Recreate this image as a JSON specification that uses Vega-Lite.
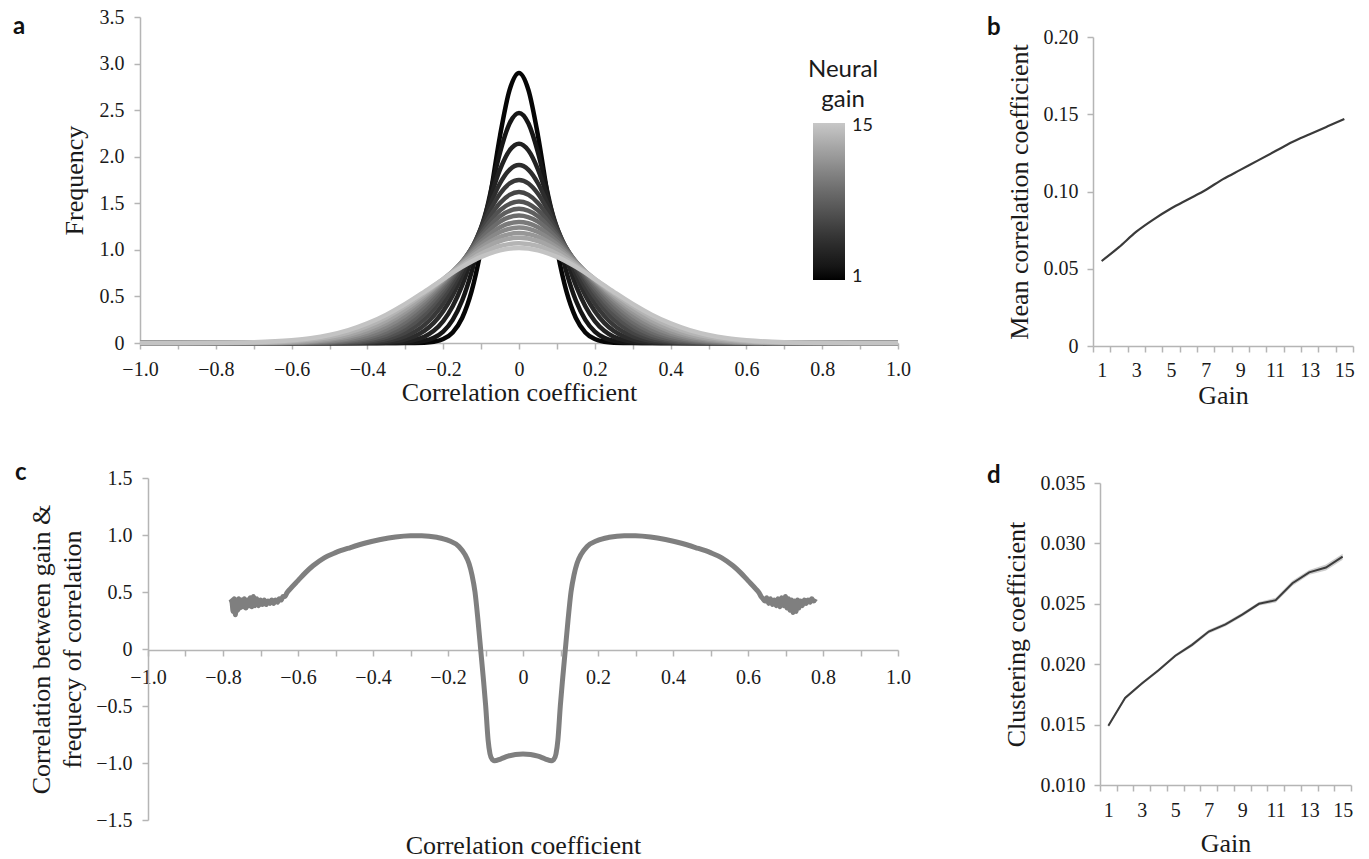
{
  "$schema": "https://vega.github.io/schema/vega-lite/v6.json",
  "padding": {"left": 13, "top": 7, "right": 5, "bottom": 5},
  "background": "white",
  "config": {
    "view": {"stroke": null},
    "axis": {"labelFont": "Liberation Serif", "labelFontSize": 20, "labelColor": "#1a1a1a", "titleFont": "Liberation Serif", "titleFontSize": 26, "titleFontWeight": "normal", "titleColor": "#1a1a1a", "domainColor": "#b5b5b5", "domainWidth": 1.5, "tickColor": "#b5b5b5", "tickWidth": 1.5, "tickSize": 6, "grid": false, "labelFlush": false, "labelOverlap": false, "labelBound": false},
    "title": {"font": "Lato", "fontSize": 24, "fontWeight": "bold", "color": "#111111", "anchor": "start", "frame": "group", "baseline": "alphabetic", "offset": 0}
  },
  "datasets": {
    "dist": [
      {"g":1,"x":-1,"y":0},{"g":1,"x":-0.3,"y":0},{"g":1,"x":-0.25,"y":0.004},{"g":1,"x":-0.225,"y":0.014},{"g":1,"x":-0.2,"y":0.042},{"g":1,"x":-0.175,"y":0.114},{"g":1,"x":-0.15,"y":0.269},{"g":1,"x":-0.125,"y":0.557},{"g":1,"x":-0.1,"y":1.009},{"g":1,"x":-0.075,"y":1.601},{"g":1,"x":-0.05,"y":2.227},{"g":1,"x":-0.025,"y":2.715},{"g":1,"x":0,"y":2.9},{"g":1,"x":0.025,"y":2.715},{"g":1,"x":0.05,"y":2.227},{"g":1,"x":0.075,"y":1.601},{"g":1,"x":0.1,"y":1.009},{"g":1,"x":0.125,"y":0.557},{"g":1,"x":0.15,"y":0.269},{"g":1,"x":0.175,"y":0.114},{"g":1,"x":0.2,"y":0.042},{"g":1,"x":0.225,"y":0.014},{"g":1,"x":0.25,"y":0.004},{"g":1,"x":0.3,"y":0},{"g":1,"x":1,"y":0},
      {"g":2,"x":-1,"y":0},{"g":2,"x":-0.35,"y":0},{"g":2,"x":-0.3,"y":0.003},{"g":2,"x":-0.275,"y":0.008},{"g":2,"x":-0.25,"y":0.023},{"g":2,"x":-0.225,"y":0.055},{"g":2,"x":-0.2,"y":0.122},{"g":2,"x":-0.175,"y":0.248},{"g":2,"x":-0.15,"y":0.456},{"g":2,"x":-0.125,"y":0.764},{"g":2,"x":-0.1,"y":1.166},{"g":2,"x":-0.075,"y":1.619},{"g":2,"x":-0.05,"y":2.047},{"g":2,"x":-0.025,"y":2.357},{"g":2,"x":0,"y":2.47},{"g":2,"x":0.025,"y":2.357},{"g":2,"x":0.05,"y":2.047},{"g":2,"x":0.075,"y":1.619},{"g":2,"x":0.1,"y":1.166},{"g":2,"x":0.125,"y":0.764},{"g":2,"x":0.15,"y":0.456},{"g":2,"x":0.175,"y":0.248},{"g":2,"x":0.2,"y":0.122},{"g":2,"x":0.225,"y":0.055},{"g":2,"x":0.25,"y":0.023},{"g":2,"x":0.275,"y":0.008},{"g":2,"x":0.3,"y":0.003},{"g":2,"x":0.35,"y":0},{"g":2,"x":1,"y":0},
      {"g":3,"x":-1,"y":0},{"g":3,"x":-0.4,"y":0},{"g":3,"x":-0.35,"y":0.002},{"g":3,"x":-0.3,"y":0.015},{"g":3,"x":-0.275,"y":0.033},{"g":3,"x":-0.25,"y":0.068},{"g":3,"x":-0.225,"y":0.131},{"g":3,"x":-0.2,"y":0.235},{"g":3,"x":-0.175,"y":0.395},{"g":3,"x":-0.15,"y":0.619},{"g":3,"x":-0.125,"y":0.904},{"g":3,"x":-0.1,"y":1.233},{"g":3,"x":-0.075,"y":1.569},{"g":3,"x":-0.05,"y":1.864},{"g":3,"x":-0.025,"y":2.067},{"g":3,"x":0,"y":2.14},{"g":3,"x":0.025,"y":2.067},{"g":3,"x":0.05,"y":1.864},{"g":3,"x":0.075,"y":1.569},{"g":3,"x":0.1,"y":1.233},{"g":3,"x":0.125,"y":0.904},{"g":3,"x":0.15,"y":0.619},{"g":3,"x":0.175,"y":0.395},{"g":3,"x":0.2,"y":0.235},{"g":3,"x":0.225,"y":0.131},{"g":3,"x":0.25,"y":0.068},{"g":3,"x":0.275,"y":0.033},{"g":3,"x":0.3,"y":0.015},{"g":3,"x":0.35,"y":0.002},{"g":3,"x":0.4,"y":0},{"g":3,"x":1,"y":0},
      {"g":4,"x":-1,"y":0},{"g":4,"x":-0.45,"y":0},{"g":4,"x":-0.4,"y":0.002},{"g":4,"x":-0.35,"y":0.01},{"g":4,"x":-0.3,"y":0.04},{"g":4,"x":-0.275,"y":0.074},{"g":4,"x":-0.25,"y":0.13},{"g":4,"x":-0.225,"y":0.216},{"g":4,"x":-0.2,"y":0.342},{"g":4,"x":-0.175,"y":0.511},{"g":4,"x":-0.15,"y":0.725},{"g":4,"x":-0.125,"y":0.975},{"g":4,"x":-0.1,"y":1.242},{"g":4,"x":-0.075,"y":1.499},{"g":4,"x":-0.05,"y":1.715},{"g":4,"x":-0.025,"y":1.859},{"g":4,"x":0,"y":1.91},{"g":4,"x":0.025,"y":1.859},{"g":4,"x":0.05,"y":1.715},{"g":4,"x":0.075,"y":1.499},{"g":4,"x":0.1,"y":1.242},{"g":4,"x":0.125,"y":0.975},{"g":4,"x":0.15,"y":0.725},{"g":4,"x":0.175,"y":0.511},{"g":4,"x":0.2,"y":0.342},{"g":4,"x":0.225,"y":0.216},{"g":4,"x":0.25,"y":0.13},{"g":4,"x":0.275,"y":0.074},{"g":4,"x":0.3,"y":0.04},{"g":4,"x":0.35,"y":0.01},{"g":4,"x":0.4,"y":0.002},{"g":4,"x":0.45,"y":0},{"g":4,"x":1,"y":0},
      {"g":5,"x":-1,"y":0},{"g":5,"x":-0.45,"y":0.001},{"g":5,"x":-0.4,"y":0.006},{"g":5,"x":-0.35,"y":0.023},{"g":5,"x":-0.3,"y":0.073},{"g":5,"x":-0.25,"y":0.192},{"g":5,"x":-0.2,"y":0.425},{"g":5,"x":-0.175,"y":0.592},{"g":5,"x":-0.15,"y":0.79},{"g":5,"x":-0.125,"y":1.007},{"g":5,"x":-0.1,"y":1.229},{"g":5,"x":-0.075,"y":1.434},{"g":5,"x":-0.05,"y":1.602},{"g":5,"x":-0.025,"y":1.712},{"g":5,"x":0,"y":1.75},{"g":5,"x":0.025,"y":1.712},{"g":5,"x":0.05,"y":1.602},{"g":5,"x":0.075,"y":1.434},{"g":5,"x":0.1,"y":1.229},{"g":5,"x":0.125,"y":1.007},{"g":5,"x":0.15,"y":0.79},{"g":5,"x":0.175,"y":0.592},{"g":5,"x":0.2,"y":0.425},{"g":5,"x":0.25,"y":0.192},{"g":5,"x":0.3,"y":0.073},{"g":5,"x":0.35,"y":0.023},{"g":5,"x":0.4,"y":0.006},{"g":5,"x":0.45,"y":0.001},{"g":5,"x":1,"y":0},
      {"g":6,"x":-1,"y":0},{"g":6,"x":-0.5,"y":0},{"g":6,"x":-0.45,"y":0.004},{"g":6,"x":-0.4,"y":0.014},{"g":6,"x":-0.35,"y":0.042},{"g":6,"x":-0.3,"y":0.112},{"g":6,"x":-0.25,"y":0.253},{"g":6,"x":-0.2,"y":0.493},{"g":6,"x":-0.175,"y":0.652},{"g":6,"x":-0.15,"y":0.83},{"g":6,"x":-0.125,"y":1.018},{"g":6,"x":-0.1,"y":1.204},{"g":6,"x":-0.075,"y":1.37},{"g":6,"x":-0.05,"y":1.504},{"g":6,"x":-0.025,"y":1.59},{"g":6,"x":0,"y":1.62},{"g":6,"x":0.025,"y":1.59},{"g":6,"x":0.05,"y":1.504},{"g":6,"x":0.075,"y":1.37},{"g":6,"x":0.1,"y":1.204},{"g":6,"x":0.125,"y":1.018},{"g":6,"x":0.15,"y":0.83},{"g":6,"x":0.175,"y":0.652},{"g":6,"x":0.2,"y":0.493},{"g":6,"x":0.25,"y":0.253},{"g":6,"x":0.3,"y":0.112},{"g":6,"x":0.35,"y":0.042},{"g":6,"x":0.4,"y":0.014},{"g":6,"x":0.45,"y":0.004},{"g":6,"x":0.5,"y":0},{"g":6,"x":1,"y":0},
      {"g":7,"x":-1,"y":0},{"g":7,"x":-0.55,"y":0},{"g":7,"x":-0.5,"y":0.003},{"g":7,"x":-0.45,"y":0.008},{"g":7,"x":-0.4,"y":0.025},{"g":7,"x":-0.35,"y":0.066},{"g":7,"x":-0.3,"y":0.152},{"g":7,"x":-0.25,"y":0.307},{"g":7,"x":-0.2,"y":0.545},{"g":7,"x":-0.15,"y":0.854},{"g":7,"x":-0.1,"y":1.176},{"g":7,"x":-0.05,"y":1.426},{"g":7,"x":0,"y":1.52},{"g":7,"x":0.05,"y":1.426},{"g":7,"x":0.1,"y":1.176},{"g":7,"x":0.15,"y":0.854},{"g":7,"x":0.2,"y":0.545},{"g":7,"x":0.25,"y":0.307},{"g":7,"x":0.3,"y":0.152},{"g":7,"x":0.35,"y":0.066},{"g":7,"x":0.4,"y":0.025},{"g":7,"x":0.45,"y":0.008},{"g":7,"x":0.5,"y":0.003},{"g":7,"x":0.55,"y":0},{"g":7,"x":1,"y":0},
      {"g":8,"x":-1,"y":0},{"g":8,"x":-0.55,"y":0.001},{"g":8,"x":-0.5,"y":0.005},{"g":8,"x":-0.45,"y":0.015},{"g":8,"x":-0.4,"y":0.039},{"g":8,"x":-0.35,"y":0.091},{"g":8,"x":-0.3,"y":0.189},{"g":8,"x":-0.25,"y":0.352},{"g":8,"x":-0.2,"y":0.584},{"g":8,"x":-0.15,"y":0.867},{"g":8,"x":-0.1,"y":1.149},{"g":8,"x":-0.05,"y":1.361},{"g":8,"x":0,"y":1.44},{"g":8,"x":0.05,"y":1.361},{"g":8,"x":0.1,"y":1.149},{"g":8,"x":0.15,"y":0.867},{"g":8,"x":0.2,"y":0.584},{"g":8,"x":0.25,"y":0.352},{"g":8,"x":0.3,"y":0.189},{"g":8,"x":0.35,"y":0.091},{"g":8,"x":0.4,"y":0.039},{"g":8,"x":0.45,"y":0.015},{"g":8,"x":0.5,"y":0.005},{"g":8,"x":0.55,"y":0.001},{"g":8,"x":1,"y":0},
      {"g":9,"x":-1,"y":0},{"g":9,"x":-0.6,"y":0},{"g":9,"x":-0.55,"y":0.003},{"g":9,"x":-0.5,"y":0.009},{"g":9,"x":-0.45,"y":0.024},{"g":9,"x":-0.4,"y":0.056},{"g":9,"x":-0.35,"y":0.118},{"g":9,"x":-0.3,"y":0.226},{"g":9,"x":-0.25,"y":0.393},{"g":9,"x":-0.2,"y":0.616},{"g":9,"x":-0.15,"y":0.874},{"g":9,"x":-0.1,"y":1.122},{"g":9,"x":-0.05,"y":1.303},{"g":9,"x":0,"y":1.37},{"g":9,"x":0.05,"y":1.303},{"g":9,"x":0.1,"y":1.122},{"g":9,"x":0.15,"y":0.874},{"g":9,"x":0.2,"y":0.616},{"g":9,"x":0.25,"y":0.393},{"g":9,"x":0.3,"y":0.226},{"g":9,"x":0.35,"y":0.118},{"g":9,"x":0.4,"y":0.056},{"g":9,"x":0.45,"y":0.024},{"g":9,"x":0.5,"y":0.009},{"g":9,"x":0.55,"y":0.003},{"g":9,"x":0.6,"y":0},{"g":9,"x":1,"y":0},
      {"g":10,"x":-1,"y":0},{"g":10,"x":-0.7,"y":0},{"g":10,"x":-0.6,"y":0.002},{"g":10,"x":-0.55,"y":0.006},{"g":10,"x":-0.5,"y":0.016},{"g":10,"x":-0.45,"y":0.036},{"g":10,"x":-0.4,"y":0.077},{"g":10,"x":-0.35,"y":0.149},{"g":10,"x":-0.3,"y":0.265},{"g":10,"x":-0.25,"y":0.431},{"g":10,"x":-0.2,"y":0.641},{"g":10,"x":-0.15,"y":0.874},{"g":10,"x":-0.1,"y":1.089},{"g":10,"x":-0.05,"y":1.244},{"g":10,"x":0,"y":1.3},{"g":10,"x":0.05,"y":1.244},{"g":10,"x":0.1,"y":1.089},{"g":10,"x":0.15,"y":0.874},{"g":10,"x":0.2,"y":0.641},{"g":10,"x":0.25,"y":0.431},{"g":10,"x":0.3,"y":0.265},{"g":10,"x":0.35,"y":0.149},{"g":10,"x":0.4,"y":0.077},{"g":10,"x":0.45,"y":0.036},{"g":10,"x":0.5,"y":0.016},{"g":10,"x":0.55,"y":0.006},{"g":10,"x":0.6,"y":0.002},{"g":10,"x":0.7,"y":0},{"g":10,"x":1,"y":0},
      {"g":11,"x":-1,"y":0},{"g":11,"x":-0.7,"y":0},{"g":11,"x":-0.6,"y":0.004},{"g":11,"x":-0.55,"y":0.011},{"g":11,"x":-0.5,"y":0.024},{"g":11,"x":-0.45,"y":0.051},{"g":11,"x":-0.4,"y":0.1},{"g":11,"x":-0.35,"y":0.18},{"g":11,"x":-0.3,"y":0.3},{"g":11,"x":-0.25,"y":0.463},{"g":11,"x":-0.2,"y":0.66},{"g":11,"x":-0.15,"y":0.87},{"g":11,"x":-0.1,"y":1.059},{"g":11,"x":-0.05,"y":1.192},{"g":11,"x":0,"y":1.24},{"g":11,"x":0.05,"y":1.192},{"g":11,"x":0.1,"y":1.059},{"g":11,"x":0.15,"y":0.87},{"g":11,"x":0.2,"y":0.66},{"g":11,"x":0.25,"y":0.463},{"g":11,"x":0.3,"y":0.3},{"g":11,"x":0.35,"y":0.18},{"g":11,"x":0.4,"y":0.1},{"g":11,"x":0.45,"y":0.051},{"g":11,"x":0.5,"y":0.024},{"g":11,"x":0.55,"y":0.011},{"g":11,"x":0.6,"y":0.004},{"g":11,"x":0.7,"y":0},{"g":11,"x":1,"y":0},
      {"g":12,"x":-1,"y":0},{"g":12,"x":-0.7,"y":0.001},{"g":12,"x":-0.6,"y":0.008},{"g":12,"x":-0.55,"y":0.017},{"g":12,"x":-0.5,"y":0.036},{"g":12,"x":-0.45,"y":0.069},{"g":12,"x":-0.4,"y":0.126},{"g":12,"x":-0.35,"y":0.212},{"g":12,"x":-0.3,"y":0.335},{"g":12,"x":-0.25,"y":0.492},{"g":12,"x":-0.2,"y":0.674},{"g":12,"x":-0.15,"y":0.861},{"g":12,"x":-0.1,"y":1.026},{"g":12,"x":-0.05,"y":1.139},{"g":12,"x":0,"y":1.18},{"g":12,"x":0.05,"y":1.139},{"g":12,"x":0.1,"y":1.026},{"g":12,"x":0.15,"y":0.861},{"g":12,"x":0.2,"y":0.674},{"g":12,"x":0.25,"y":0.492},{"g":12,"x":0.3,"y":0.335},{"g":12,"x":0.35,"y":0.212},{"g":12,"x":0.4,"y":0.126},{"g":12,"x":0.45,"y":0.069},{"g":12,"x":0.5,"y":0.036},{"g":12,"x":0.55,"y":0.017},{"g":12,"x":0.6,"y":0.008},{"g":12,"x":0.7,"y":0.001},{"g":12,"x":1,"y":0},
      {"g":13,"x":-1,"y":0},{"g":13,"x":-0.7,"y":0.002},{"g":13,"x":-0.6,"y":0.012},{"g":13,"x":-0.55,"y":0.025},{"g":13,"x":-0.5,"y":0.048},{"g":13,"x":-0.45,"y":0.088},{"g":13,"x":-0.4,"y":0.151},{"g":13,"x":-0.35,"y":0.242},{"g":13,"x":-0.3,"y":0.364},{"g":13,"x":-0.25,"y":0.514},{"g":13,"x":-0.2,"y":0.683},{"g":13,"x":-0.15,"y":0.851},{"g":13,"x":-0.1,"y":0.996},{"g":13,"x":-0.05,"y":1.095},{"g":13,"x":0,"y":1.13},{"g":13,"x":0.05,"y":1.095},{"g":13,"x":0.1,"y":0.996},{"g":13,"x":0.15,"y":0.851},{"g":13,"x":0.2,"y":0.683},{"g":13,"x":0.25,"y":0.514},{"g":13,"x":0.3,"y":0.364},{"g":13,"x":0.35,"y":0.242},{"g":13,"x":0.4,"y":0.151},{"g":13,"x":0.45,"y":0.088},{"g":13,"x":0.5,"y":0.048},{"g":13,"x":0.55,"y":0.025},{"g":13,"x":0.6,"y":0.012},{"g":13,"x":0.7,"y":0.002},{"g":13,"x":1,"y":0},
      {"g":14,"x":-1,"y":0},{"g":14,"x":-0.8,"y":0.001},{"g":14,"x":-0.7,"y":0.005},{"g":14,"x":-0.6,"y":0.02},{"g":14,"x":-0.55,"y":0.037},{"g":14,"x":-0.5,"y":0.067},{"g":14,"x":-0.45,"y":0.113},{"g":14,"x":-0.4,"y":0.182},{"g":14,"x":-0.35,"y":0.275},{"g":14,"x":-0.3,"y":0.395},{"g":14,"x":-0.25,"y":0.535},{"g":14,"x":-0.2,"y":0.687},{"g":14,"x":-0.15,"y":0.834},{"g":14,"x":-0.1,"y":0.958},{"g":14,"x":-0.05,"y":1.041},{"g":14,"x":0,"y":1.07},{"g":14,"x":0.05,"y":1.041},{"g":14,"x":0.1,"y":0.958},{"g":14,"x":0.15,"y":0.834},{"g":14,"x":0.2,"y":0.687},{"g":14,"x":0.25,"y":0.535},{"g":14,"x":0.3,"y":0.395},{"g":14,"x":0.35,"y":0.275},{"g":14,"x":0.4,"y":0.182},{"g":14,"x":0.45,"y":0.113},{"g":14,"x":0.5,"y":0.067},{"g":14,"x":0.55,"y":0.037},{"g":14,"x":0.6,"y":0.02},{"g":14,"x":0.7,"y":0.005},{"g":14,"x":0.8,"y":0.001},{"g":14,"x":1,"y":0},
      {"g":15,"x":-1,"y":0},{"g":15,"x":-0.8,"y":0.002},{"g":15,"x":-0.7,"y":0.008},{"g":15,"x":-0.6,"y":0.029},{"g":15,"x":-0.55,"y":0.051},{"g":15,"x":-0.5,"y":0.086},{"g":15,"x":-0.45,"y":0.138},{"g":15,"x":-0.4,"y":0.21},{"g":15,"x":-0.35,"y":0.304},{"g":15,"x":-0.3,"y":0.419},{"g":15,"x":-0.25,"y":0.55},{"g":15,"x":-0.2,"y":0.687},{"g":15,"x":-0.15,"y":0.817},{"g":15,"x":-0.1,"y":0.924},{"g":15,"x":-0.05,"y":0.995},{"g":15,"x":0,"y":1.02},{"g":15,"x":0.05,"y":0.995},{"g":15,"x":0.1,"y":0.924},{"g":15,"x":0.15,"y":0.817},{"g":15,"x":0.2,"y":0.687},{"g":15,"x":0.25,"y":0.55},{"g":15,"x":0.3,"y":0.419},{"g":15,"x":0.35,"y":0.304},{"g":15,"x":0.4,"y":0.21},{"g":15,"x":0.45,"y":0.138},{"g":15,"x":0.5,"y":0.086},{"g":15,"x":0.55,"y":0.051},{"g":15,"x":0.6,"y":0.029},{"g":15,"x":0.7,"y":0.008},{"g":15,"x":0.8,"y":0.002},{"g":15,"x":1,"y":0}
    ],
    "mean": [
      {"gain":1,"m":0.055},{"gain":2,"m":0.064},{"gain":3,"m":0.074},{"gain":4,"m":0.082},{"gain":5,"m":0.089},{"gain":6,"m":0.095},{"gain":7,"m":0.101},{"gain":8,"m":0.108},{"gain":9,"m":0.114},{"gain":10,"m":0.120},{"gain":11,"m":0.126},{"gain":12,"m":0.132},{"gain":13,"m":0.137},{"gain":14,"m":0.142},{"gain":15,"m":0.147}
    ],
    "clust": [
      {"gain":1,"c":0.0149,"lo":0.01478,"hi":0.01502},{"gain":2,"c":0.0172,"lo":0.01708,"hi":0.01732},{"gain":3,"c":0.0184,"lo":0.01828,"hi":0.01852},{"gain":4,"c":0.0195,"lo":0.01938,"hi":0.01962},{"gain":5,"c":0.0207,"lo":0.02058,"hi":0.02082},{"gain":6,"c":0.0216,"lo":0.02145,"hi":0.02175},{"gain":7,"c":0.0227,"lo":0.02255,"hi":0.02285},{"gain":8,"c":0.0233,"lo":0.02315,"hi":0.02345},{"gain":9,"c":0.0241,"lo":0.02395,"hi":0.02425},{"gain":10,"c":0.025,"lo":0.02485,"hi":0.02515},{"gain":11,"c":0.0253,"lo":0.0251,"hi":0.0255},{"gain":12,"c":0.0267,"lo":0.0265,"hi":0.0269},{"gain":13,"c":0.0276,"lo":0.0274,"hi":0.0278},{"gain":14,"c":0.028,"lo":0.02775,"hi":0.02825},{"gain":15,"c":0.0289,"lo":0.02865,"hi":0.02915}
    ],
    "corr": [
      {"x":-0.78,"y":0.44},{"x":-0.776,"y":0.41},{"x":-0.773,"y":0.33},{"x":-0.77,"y":0.44},{"x":-0.767,"y":0.3},{"x":-0.764,"y":0.43},{"x":-0.761,"y":0.34},{"x":-0.758,"y":0.44},{"x":-0.755,"y":0.36},{"x":-0.751,"y":0.43},{"x":-0.747,"y":0.37},{"x":-0.743,"y":0.44},{"x":-0.739,"y":0.36},{"x":-0.735,"y":0.43},{"x":-0.731,"y":0.38},{"x":-0.727,"y":0.45},{"x":-0.723,"y":0.37},{"x":-0.719,"y":0.46},{"x":-0.715,"y":0.38},{"x":-0.71,"y":0.44},{"x":-0.705,"y":0.38},{"x":-0.7,"y":0.43},{"x":-0.695,"y":0.39},{"x":-0.69,"y":0.43},{"x":-0.685,"y":0.39},{"x":-0.68,"y":0.42},{"x":-0.675,"y":0.4},{"x":-0.67,"y":0.43},{"x":-0.665,"y":0.4},{"x":-0.66,"y":0.43},{"x":-0.655,"y":0.41},{"x":-0.65,"y":0.44},{"x":-0.645,"y":0.43},{"x":-0.64,"y":0.46},{"x":-0.635,"y":0.46},{"x":-0.63,"y":0.49},
      {"x":-0.62,"y":0.53},{"x":-0.6,"y":0.6},{"x":-0.58,"y":0.67},{"x":-0.56,"y":0.73},{"x":-0.53,"y":0.8},{"x":-0.5,"y":0.845},{"x":-0.46,"y":0.89},{"x":-0.42,"y":0.93},{"x":-0.38,"y":0.96},{"x":-0.34,"y":0.982},{"x":-0.3,"y":0.993},{"x":-0.27,"y":0.994},{"x":-0.23,"y":0.98},{"x":-0.197,"y":0.95},{"x":-0.171,"y":0.9},{"x":-0.155,"y":0.83},{"x":-0.144,"y":0.75},{"x":-0.136,"y":0.65},{"x":-0.128,"y":0.5},{"x":-0.12,"y":0.25},{"x":-0.113,"y":0},{"x":-0.106,"y":-0.25},{"x":-0.0995,"y":-0.5},{"x":-0.093,"y":-0.8},{"x":-0.088,"y":-0.92},{"x":-0.082,"y":-0.97},{"x":-0.076,"y":-0.98},{"x":-0.06,"y":-0.965},{"x":-0.04,"y":-0.94},{"x":-0.02,"y":-0.925},{"x":0,"y":-0.92},
      {"x":0.02,"y":-0.925},{"x":0.04,"y":-0.94},{"x":0.06,"y":-0.965},{"x":0.076,"y":-0.98},{"x":0.082,"y":-0.97},{"x":0.088,"y":-0.92},{"x":0.093,"y":-0.8},{"x":0.0995,"y":-0.5},{"x":0.106,"y":-0.25},{"x":0.113,"y":0},{"x":0.12,"y":0.25},{"x":0.128,"y":0.5},{"x":0.136,"y":0.65},{"x":0.144,"y":0.75},{"x":0.155,"y":0.83},{"x":0.171,"y":0.9},{"x":0.197,"y":0.95},{"x":0.23,"y":0.98},{"x":0.27,"y":0.994},{"x":0.3,"y":0.993},{"x":0.34,"y":0.982},{"x":0.38,"y":0.96},{"x":0.42,"y":0.93},{"x":0.46,"y":0.89},{"x":0.5,"y":0.845},{"x":0.53,"y":0.8},{"x":0.56,"y":0.73},{"x":0.58,"y":0.67},{"x":0.6,"y":0.6},{"x":0.62,"y":0.53},
      {"x":0.63,"y":0.49},{"x":0.635,"y":0.46},{"x":0.64,"y":0.44},{"x":0.645,"y":0.42},{"x":0.65,"y":0.45},{"x":0.655,"y":0.4},{"x":0.66,"y":0.44},{"x":0.665,"y":0.39},{"x":0.67,"y":0.43},{"x":0.675,"y":0.38},{"x":0.68,"y":0.44},{"x":0.685,"y":0.37},{"x":0.69,"y":0.45},{"x":0.695,"y":0.38},{"x":0.7,"y":0.46},{"x":0.704,"y":0.36},{"x":0.708,"y":0.44},{"x":0.712,"y":0.34},{"x":0.716,"y":0.43},{"x":0.72,"y":0.32},{"x":0.724,"y":0.42},{"x":0.728,"y":0.33},{"x":0.732,"y":0.43},{"x":0.736,"y":0.36},{"x":0.74,"y":0.42},{"x":0.745,"y":0.38},{"x":0.75,"y":0.43},{"x":0.755,"y":0.4},{"x":0.76,"y":0.43},{"x":0.765,"y":0.41},{"x":0.77,"y":0.44},{"x":0.775,"y":0.42},{"x":0.78,"y":0.44}
    ]
  },
  "columns": 2,
  "spacing": {"row": 119, "column": 195},
  "align": "all",
  "bounds": "flush",
  "concat": [
    {
      "title": {"text": "a", "dx": -127, "dy": 36},
      "width": 758,
      "height": 326,
      "data": {"name": "dist"},
      "mark": {"type": "line", "interpolate": "monotone", "strokeWidth": 4.5},
      "encoding": {
        "x": {"field": "x", "type": "quantitative", "scale": {"domain": [-1, 1], "nice": false},
          "axis": {"title": "Correlation coefficient", "values": [-1,-0.9,-0.8,-0.7,-0.6,-0.5,-0.4,-0.3,-0.2,-0.1,0,0.1,0.2,0.3,0.4,0.5,0.6,0.7,0.8,0.9,1],
            "labelExpr": "round(datum.value*10) % 2 != 0 ? '' : (datum.value == 0 ? '0' : (datum.value < 0 ? '−' : '') + format(abs(datum.value), '.1f'))",
            "labelPadding": 10, "titlePadding": 0}},
        "y": {"field": "y", "type": "quantitative", "scale": {"domain": [0, 3.5], "nice": false},
          "axis": {"title": "Frequency", "values": [0,0.5,1,1.5,2,2.5,3,3.5],
            "labelExpr": "datum.value == 0 ? '0' : format(datum.value, '.1f')",
            "labelPadding": 10, "titlePadding": 12}},
        "color": {"field": "g", "type": "quantitative", "scale": {"domain": [0.7, 15.3], "range": ["#000000", "#c8c8c8"]},
          "legend": {"orient": "none", "legendX": 668, "legendY": 41, "direction": "vertical", "title": ["Neural", "gain"],
            "titleFont": "Lato", "titleFontSize": 24, "titleFontWeight": "normal", "titleColor": "#1a1a1a",
            "titleAnchor": "middle", "titleAlign": "center", "titleLineHeight": 30, "titlePadding": 11,
            "gradientLength": 157, "gradientThickness": 32, "gradientStrokeWidth": 0,
            "labelFont": "Lato", "labelFontSize": 18, "labelColor": "#1a1a1a", "labelOffset": 7, "labelBaseline": "middle",
            "values": [1, 15], "padding": 0}}
      }
    },
    {
      "title": {"text": "b", "dx": -106, "dy": 27},
      "width": 260,
      "height": 329,
      "data": {"name": "mean"},
      "mark": {"type": "line", "interpolate": "monotone", "color": "#3a3a3a", "strokeWidth": 2.2},
      "encoding": {
        "x": {"field": "gain", "type": "quantitative", "scale": {"domain": [0.5, 15.5], "nice": false, "zero": false},
          "axis": {"title": "Gain", "values": [0.5,1,1.5,2,2.5,3,3.5,4,4.5,5,5.5,6,6.5,7,7.5,8,8.5,9,9.5,10,10.5,11,11.5,12,12.5,13,13.5,14,14.5,15,15.5],
            "labelExpr": "datum.value % 2 == 1 ? format(datum.value, 'd') : ''",
            "tickOpacity": {"condition": {"test": "datum.value % 1 != 0", "value": 1}, "value": 0},
            "labelPadding": 8, "titlePadding": 2}},
        "y": {"field": "m", "type": "quantitative", "scale": {"domain": [0, 0.2], "range": [329, 20], "nice": false},
          "axis": {"title": "Mean correlation coefficient", "values": [0,0.05,0.1,0.15,0.2],
            "labelExpr": "datum.value == 0 ? '0' : format(datum.value, '.2f')",
            "labelPadding": 9, "titlePadding": 11}}
      }
    },
    {
      "title": {"text": "c", "dx": -125, "dy": 21},
      "width": 758,
      "height": 342,
      "data": {"name": "corr"},
      "mark": {"type": "line", "interpolate": "monotone", "color": "#7f7f7f", "strokeWidth": 5},
      "encoding": {
        "x": {"field": "x", "type": "quantitative", "scale": {"domain": [-1, 1], "range": [8, 758], "nice": false},
          "axis": {"title": "Correlation coefficient", "values": [-1,-0.9,-0.8,-0.7,-0.6,-0.5,-0.4,-0.3,-0.2,-0.1,0,0.1,0.2,0.3,0.4,0.5,0.6,0.7,0.8,0.9,1],
            "labelExpr": "round(datum.value*10) % 2 != 0 ? '' : (datum.value == 0 ? '0' : (datum.value < 0 ? '−' : '') + format(abs(datum.value), '.1f'))",
            "offset": -170, "labelPadding": 11, "titlePadding": 145}},
        "y": {"field": "y", "type": "quantitative", "scale": {"domain": [-1.5, 1.5], "nice": false},
          "axis": {"title": ["Correlation between gain &", "frequecy of correlation"], "values": [-1.5,-1,-0.5,0,0.5,1,1.5],
            "labelExpr": "datum.value == 0 ? '0' : (datum.value < 0 ? '−' : '') + format(abs(datum.value), '.1f')",
            "offset": -8, "labelPadding": 10, "titlePadding": 10, "titleLineHeight": 31}}
      }
    },
    {
      "title": {"text": "d", "dx": -106, "dy": 19},
      "width": 260,
      "height": 307,
      "data": {"name": "clust"},
      "encoding": {
        "x": {"field": "gain", "type": "quantitative", "scale": {"domain": [0.5, 15.5], "range": [7, 258], "nice": false, "zero": false},
          "axis": {"title": "Gain", "values": [0.5,1,1.5,2,2.5,3,3.5,4,4.5,5,5.5,6,6.5,7,7.5,8,8.5,9,9.5,10,10.5,11,11.5,12,12.5,13,13.5,14,14.5,15,15.5],
            "labelExpr": "datum.value % 2 == 1 ? format(datum.value, 'd') : ''",
            "tickOpacity": {"condition": {"test": "datum.value % 1 != 0", "value": 1}, "value": 0},
            "labelPadding": 9, "titlePadding": 10}}
      },
      "layer": [
        {
          "mark": {"type": "area", "color": "#c8c8c8", "opacity": 0.9},
          "encoding": {
            "y": {"field": "lo", "type": "quantitative", "scale": {"domain": [0.01, 0.035], "range": [307, 5], "nice": false, "zero": false},
              "axis": {"title": "Clustering coefficient", "values": [0.01,0.015,0.02,0.025,0.03,0.035],
                "labelExpr": "format(datum.value, '.3f')", "offset": -7, "labelPadding": 9, "titlePadding": 11}},
            "y2": {"field": "hi"}
          }
        },
        {
          "mark": {"type": "line", "color": "#3c3c3c", "strokeWidth": 2},
          "encoding": {
            "y": {"field": "c", "type": "quantitative",
              "axis": {"title": "Clustering coefficient", "values": [0.01,0.015,0.02,0.025,0.03,0.035],
                "labelExpr": "format(datum.value, '.3f')", "offset": -7, "labelPadding": 9, "titlePadding": 11}}
          }
        }
      ]
    }
  ]
}
